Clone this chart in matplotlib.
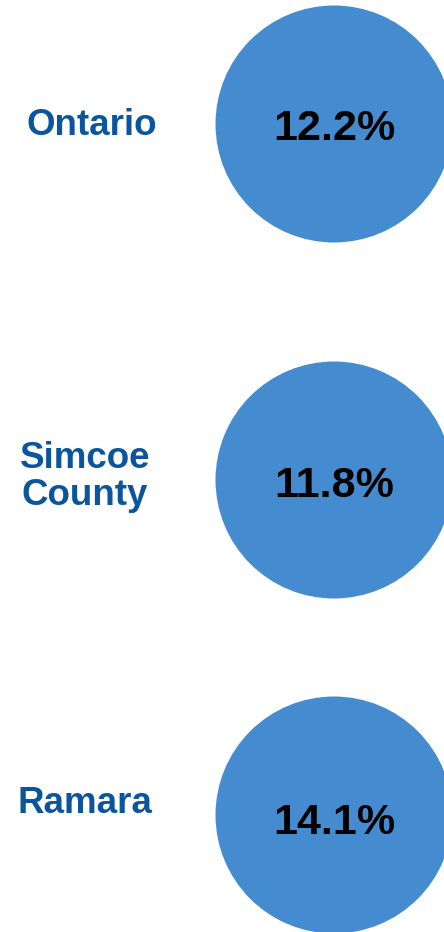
import matplotlib.pyplot as plt
from matplotlib.patches import Circle

# --- DATA ---
regions = ["Ontario", "Simcoe\nCounty", "Ramara"]
values = [12.2, 11.8, 14.1]

# --- LAYOUT (pixels, y going down) ---
W, H = 444, 932
circle_x = 334
circle_y = [124, 480, 815]
radius = 118.5
value_baseline = [140, 497, 834]
label_x = [92, 85, 85]
label_baseline = [135, 468, 813]
line_step = 37

CIRCLE_COLOR = "#448ccf"
LABEL_COLOR = "#0b559f"
FONT = ["Liberation Sans", "DejaVu Sans"]

fig = plt.figure(figsize=(W / 100, H / 100), dpi=100)
ax = fig.add_axes([0, 0, 1, 1])
ax.set_xlim(0, W)
ax.set_ylim(H, 0)
ax.axis("off")

for i, (name, val) in enumerate(zip(regions, values)):
    ax.add_patch(Circle((circle_x, circle_y[i]), radius, color=CIRCLE_COLOR, lw=0))
    ax.text(circle_x, value_baseline[i], f"{val:.1f}%", ha="center", va="baseline",
            fontsize=31, fontweight="bold", color="black", family=FONT)
    lines = name.split("\n")
    for j, line in enumerate(lines):
        ax.text(label_x[i], label_baseline[i] + j * line_step, line, ha="center",
                va="baseline", fontsize=26.5, fontweight="bold", color=LABEL_COLOR,
                family=FONT)

fig.savefig("out.png", dpi=100)
